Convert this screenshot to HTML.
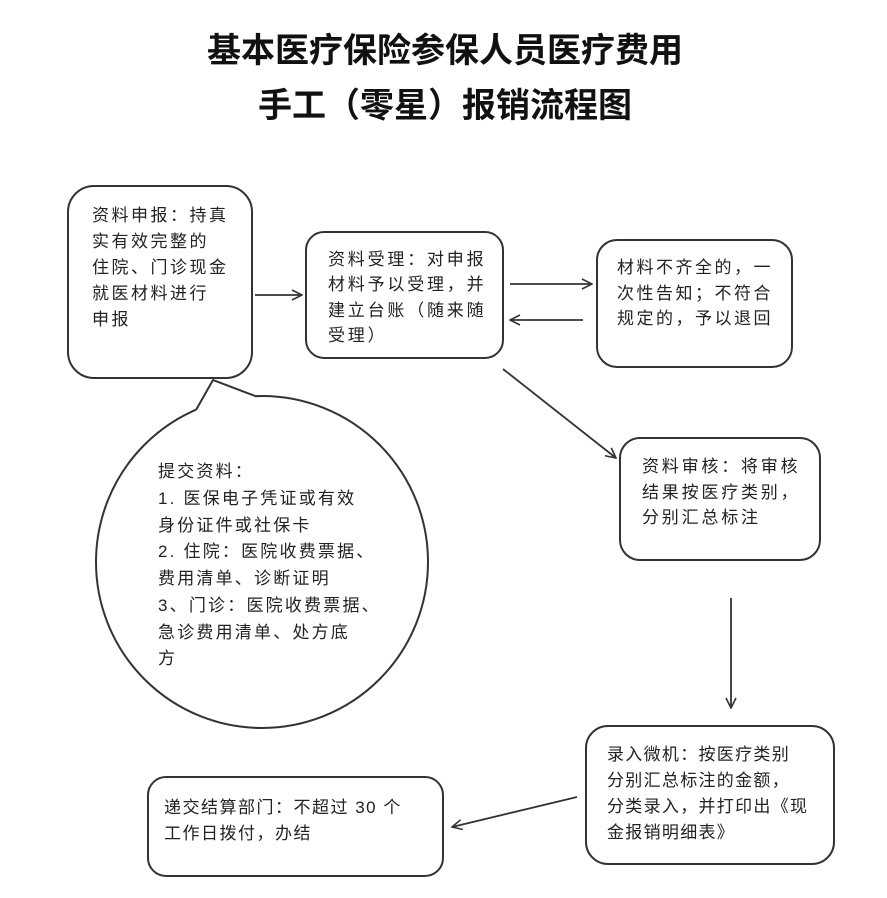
<!DOCTYPE html>
<html><head><meta charset="utf-8"><style>
html,body{margin:0;padding:0;background:#fff;}
svg{display:block;}
text{font-family:"Liberation Sans","Noto Sans CJK SC",sans-serif;fill:#222;}
.t{font-size:17px;}
</style></head><body>
<svg width="887" height="898" viewBox="0 0 887 898" xmlns="http://www.w3.org/2000/svg">
<defs><marker id="a" viewBox="0 0 12 12" refX="11" refY="6" markerWidth="12" markerHeight="12" markerUnits="userSpaceOnUse" orient="auto"><path d="M1,1 L11,6 L1,11" fill="none" stroke="#333" stroke-width="1.6"/></marker></defs>
<text x="445" y="62" text-anchor="middle" style="font-size:34px;font-weight:bold;fill:#111">基本医疗保险参保人员医疗费用</text>
<text x="445" y="117" text-anchor="middle" style="font-size:34px;font-weight:bold;fill:#111">手工（零星）报销流程图</text>
<g fill="#fff" stroke="#333" stroke-width="2">
<rect x="68" y="186" width="184" height="192" rx="26"/>
<rect x="306" y="232" width="197" height="126" rx="18"/>
<rect x="597" y="240" width="195" height="127" rx="20"/>
<rect x="620" y="438" width="200" height="122" rx="20"/>
<rect x="586" y="726" width="248" height="138" rx="22"/>
<rect x="148" y="777" width="295" height="99" rx="18"/>
<circle cx="262" cy="562" r="166"/>
</g>
<path d="M196,410 L213,380 L255,396 L252,404 L198,416 Z" fill="#fff" stroke="none"/>
<path d="M196,410 L213,380 L255,396" stroke="#333" stroke-width="2" fill="none" stroke-linejoin="round"/>
<g stroke="#333" stroke-width="1.8" fill="none" marker-end="url(#a)">
<line x1="255" y1="295" x2="302" y2="295"/>
<line x1="510" y1="284" x2="592" y2="284"/>
<line x1="583" y1="320" x2="510" y2="320"/>
<line x1="503" y1="369" x2="616" y2="458"/>
<line x1="731" y1="598" x2="731" y2="708"/>
<line x1="577" y1="797" x2="452" y2="827"/>
</g>
<g class="t">
<g style="letter-spacing:2.5px">
<text x="92" y="221">资料申报：持真</text>
<text x="92" y="247">实有效完整的</text>
<text x="92" y="273">住院、门诊现金</text>
<text x="92" y="299">就医材料进行</text>
<text x="92" y="325">申报</text>
</g>
<g style="letter-spacing:2.8px">
<text x="328" y="265">资料受理：对申报</text>
<text x="328" y="290">材料予以受理，并</text>
<text x="328" y="316">建立台账（随来随</text>
<text x="328" y="341">受理）</text>
</g>
<g style="letter-spacing:2.5px">
<text x="617" y="273">材料不齐全的，一</text>
<text x="617" y="299">次性告知；不符合</text>
<text x="617" y="324">规定的，予以退回</text>
</g>
<g style="letter-spacing:2.8px">
<text x="642" y="472">资料审核：将审核</text>
<text x="642" y="498">结果按医疗类别，</text>
<text x="642" y="523">分别汇总标注</text>
</g>
<g style="letter-spacing:1.3px">
<text x="607" y="760">录入微机：按医疗类别</text>
<text x="607" y="786">分别汇总标注的金额，</text>
<text x="607" y="812">分类录入，并打印出《现</text>
<text x="607" y="838">金报销明细表》</text>
</g>
<g style="letter-spacing:1.5px">
<text x="164" y="813">递交结算部门：不超过 30 个</text>
<text x="164" y="839">工作日拨付，办结</text>
</g>
<g style="letter-spacing:2.2px">
<text x="158" y="477">提交资料：</text>
<text x="158" y="504">1. 医保电子凭证或有效</text>
<text x="158" y="531">身份证件或社保卡</text>
<text x="158" y="557">2. 住院：医院收费票据、</text>
<text x="158" y="584">费用清单、诊断证明</text>
<text x="158" y="611">3、门诊：医院收费票据、</text>
<text x="158" y="638">急诊费用清单、处方底</text>
<text x="158" y="664">方</text>
</g>
</g>
</svg>
</body></html>
